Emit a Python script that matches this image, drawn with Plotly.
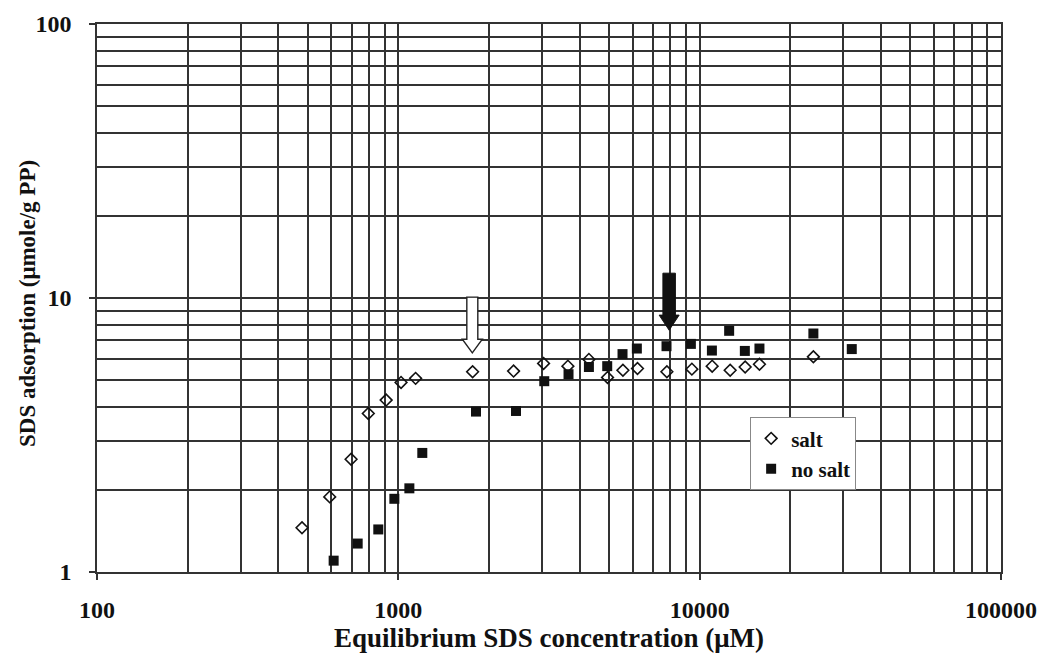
import math
import plotly.graph_objects as go

# ---- data ----
salt_x = [479, 592, 697, 795, 911, 1021, 1141, 1764, 2412, 3034, 3654, 4290, 4946,
          5563, 6218, 7785, 9422, 11003, 12625, 14157, 15790, 23844]
salt_y = [1.45, 1.88, 2.58, 3.79, 4.24, 4.92, 5.09, 5.38, 5.41, 5.77, 5.64, 5.97, 5.13,
          5.45, 5.53, 5.38, 5.50, 5.64, 5.45, 5.60, 5.73, 6.10]

nosalt_x = [610, 733, 858, 970, 1088, 1201, 1810, 2457, 3050, 3671, 4290, 4934, 5546,
            6188, 7762, 9350, 10980, 12527, 14123, 15790, 23844, 31972]
nosalt_y = [1.10, 1.27, 1.43, 1.85, 2.02, 2.72, 3.85, 3.87, 4.97, 5.27, 5.60, 5.64, 6.24,
            6.54, 6.67, 6.80, 6.43, 7.59, 6.41, 6.54, 7.42, 6.51]

x_ticks = [100, 1000, 10000, 100000]
y_ticks = [1, 10, 100]

# arrows: (concentration, top value, head-start value, tip value)
arrow_open = (1760, 10.07, 7.07, 6.31)
arrow_filled = (7920, 12.32, 8.66, 7.63)

FONT = "Liberation Serif"
GRID = "#333333"

fig = go.Figure()
fig.add_trace(go.Scatter(
    x=salt_x, y=salt_y, mode="markers", name="salt", legendgroup="a",
    marker=dict(symbol="diamond-open", size=9, color="#111", line=dict(width=1.6, color="#111")),
))
fig.add_trace(go.Scatter(
    x=nosalt_x, y=nosalt_y, mode="markers", name="no salt", legendgroup="b",
    marker=dict(symbol="square", size=10, color="#111"),
))

XR = [2, 5]
YR = [0, 2]
ML, MR, MT, MB = 96.5, 40, 24, 81.3
PW = 1041 - ML - MR
PH = 653 - MT - MB


def xp(v):
    return (math.log10(v) - XR[0]) / (XR[1] - XR[0])


def yp(v):
    return (math.log10(v) - YR[0]) / (YR[1] - YR[0])


def arrow_path(spec, shaft_w, head_w):
    cx, top, hs, tip = spec
    x0 = xp(cx)
    sw = shaft_w / 2 / PW
    hw = head_w / 2 / PW
    yt, yh, yk = yp(top), yp(hs), yp(tip)
    return (f"M {x0 - sw} {yt} L {x0 + sw} {yt} L {x0 + sw} {yh} L {x0 + hw} {yh} "
            f"L {x0} {yk} L {x0 - hw} {yh} L {x0 - sw} {yh} Z")


fig.add_shape(type="path", xref="paper", yref="paper",
              path=arrow_path(arrow_open, 11, 20),
              fillcolor="white", line=dict(color="#222", width=1.4), layer="above")
fig.add_shape(type="path", xref="paper", yref="paper",
              path=arrow_path(arrow_filled, 12.5, 20),
              fillcolor="#111", line=dict(color="#111", width=1), layer="above")

# y-axis title placed as rotated text in the left margin
fig.add_annotation(
    text="SDS adsorption (μmole/g PP)", textangle=-90,
    xref="paper", yref="paper", x=(27 - ML) / PW, y=0.49,
    xanchor="center", yanchor="middle", showarrow=False,
    font=dict(family=FONT, size=23, color="#111", weight="bold"),
)

axis_common = dict(
    type="log", automargin=False,
    showline=True, linecolor=GRID, linewidth=1.5, mirror=True,
    ticks="outside", ticklen=6, tickcolor=GRID, tickwidth=1.5,
    showgrid=True, gridcolor=GRID, gridwidth=1.5,
    tickfont=dict(family=FONT, size=24, color="#111", weight="bold"),
    zeroline=False,
)

fig.update_layout(
    width=1041, height=653, autosize=False,
    margin=dict(l=ML, r=MR, t=MT, b=MB, autoexpand=False),
    paper_bgcolor="white", plot_bgcolor="white",
    xaxis=dict(
        **axis_common, range=XR, tickvals=x_ticks, ticktext=[str(v) for v in x_ticks],
        ticklabelstandoff=9,
        minor=dict(dtick="D1", showgrid=True, gridcolor=GRID, gridwidth=1.5, ticks=""),
        title=dict(text="Equilibrium SDS concentration (μM)", standoff=1,
                   font=dict(family=FONT, size=27, color="#111", weight="bold")),
    ),
    yaxis=dict(
        **axis_common, range=YR, tickvals=y_ticks, ticktext=[str(v) for v in y_ticks],
        ticklabelstandoff=13,
        minor=dict(dtick="D1", showgrid=True, gridcolor=GRID, gridwidth=1.5, ticks=""),
    ),
    legend=dict(
        x=(750 - ML) / PW, y=(653 - MB - 417) / PH, xanchor="left", yanchor="top",
        bgcolor="white", bordercolor="#888", borderwidth=1,
        font=dict(family=FONT, size=21, color="#111", weight="bold"),
        itemwidth=30, tracegroupgap=0, traceorder="grouped",
    ),
    showlegend=True,
)

fig.write_html(
    "out.html",
    config={"displayModeBar": False, "responsive": False},
    post_script="document.body.style.margin='0px';document.body.style.overflow='hidden';",
)
